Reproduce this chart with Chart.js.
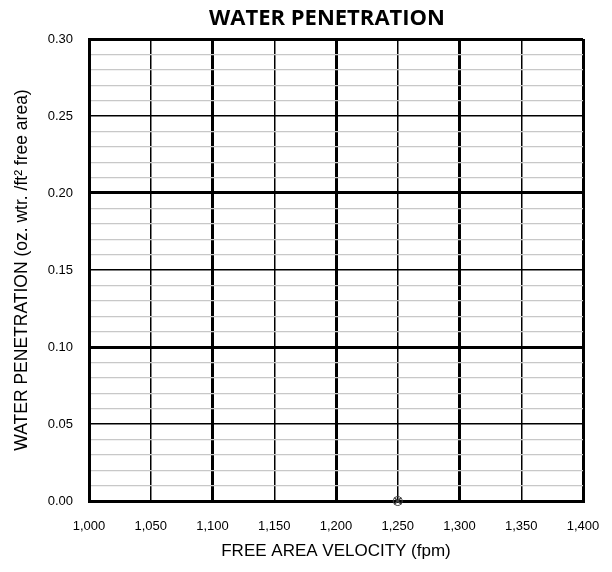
<!DOCTYPE html>
<html>
<head>
<meta charset="utf-8">
<script src="https://cdn.jsdelivr.net/npm/chart.js@4/dist/chart.umd.min.js"></script>
<style>
  html, body { margin: 0; padding: 0; background: #fff; }
  #wrap { width: 612px; height: 572px; }
</style>
</head>
<body>
<div id="wrap"><canvas id="chart" width="612" height="572"></canvas></div>
<script>
// Data
const velocities = [1250];
const penetration = [0];
const xTicks = [1000, 1050, 1100, 1150, 1200, 1250, 1300, 1350, 1400];
const yTickLabels = [0.00, 0.05, 0.10, 0.15, 0.20, 0.25, 0.30];
const chartTitle = 'WATER PENETRATION';

const points = velocities.map((v, i) => ({ x: v, y: penetration[i] }));

// grid helpers
function yLevel(v) {
  const h = Math.round(v * 100);
  if (h % 10 === 0) return 3;      // 0.00, 0.10, 0.20, 0.30
  if (h % 5 === 0) return 2;       // 0.05, 0.15, 0.25
  return 1;                        // 0.01 minor
}
function xLevel(v) {
  return (Math.round(v) % 100 === 0) ? 3 : 2;
}

// title drawn a bit right of the canvas centre, like the original
const titlePlugin = {
  id: 'topTitle',
  afterDraw(chart) {
    const ctx = chart.ctx;
    ctx.save();
    ctx.fillStyle = '#000';
    ctx.font = 'bold 22px "Open Sans"';
    ctx.textAlign = 'center';
    ctx.textBaseline = 'middle';
    ctx.fillText(chartTitle, 327, 19);
    ctx.restore();
  }
};

new Chart(document.getElementById('chart'), {
  type: 'scatter',
  data: {
    datasets: [
      {
        data: points,
        pointStyle: 'circle',
        pointRadius: 4.5,
        pointBorderWidth: 1,
        borderColor: '#444',
        backgroundColor: 'rgba(0,0,0,0)',
        clip: false
      },
      {
        data: points,
        pointStyle: 'crossRot',
        pointRadius: 5,
        pointBorderWidth: 1.5,
        borderColor: '#444',
        backgroundColor: 'rgba(0,0,0,0)',
        clip: false
      }
    ]
  },
  plugins: [titlePlugin],
  options: {
    responsive: false,
    animation: false,
    layout: { padding: { top: 39, right: 29, bottom: 0, left: 0 } },
    plugins: {
      legend: { display: false },
      tooltip: { enabled: false },
      title: { display: false }
    },
    scales: {
      x: {
        type: 'linear',
        min: 1000,
        max: 1400,
        afterFit: s => { s.height = 71; s.paddingLeft = 0; s.paddingRight = 0; },
        afterBuildTicks: s => { s.ticks = xTicks.map(v => ({ value: v })); },
        ticks: {
          color: '#000',
          padding: 18,
          maxRotation: 0,
          font: { family: 'Liberation Sans', size: 13 },
          callback: v => v.toLocaleString('en-US')
        },
        grid: {
          drawTicks: false,
          color: '#000',
          lineWidth: c => xLevel(c.tick.value) === 3 ? 3 : 1.5
        },
        border: { display: true, color: '#000', width: 3 },
        title: {
          display: true,
          text: 'FREE AREA VELOCITY (fpm)',
          color: '#000',
          font: { family: 'Liberation Sans', size: 17 },
          padding: { top: 10, bottom: 10 }
        }
      },
      y: {
        type: 'linear',
        min: 0,
        max: 0.30,
        afterFit: s => { s.width = 89; s.paddingTop = 0; s.paddingBottom = 0; },
        ticks: {
          stepSize: 0.01,
          autoSkip: false,
          color: '#000',
          padding: 16,
          font: { family: 'Liberation Sans', size: 13 },
          callback: v => {
            const h = Math.round(v * 100);
            return (h % 5 === 0 && yTickLabels.includes(h / 100)) ? (h / 100).toFixed(2) : '';
          }
        },
        grid: {
          drawTicks: false,
          color: c => yLevel(c.tick.value) === 1 ? '#c8c8c8' : '#000',
          lineWidth: c => {
            const l = yLevel(c.tick.value);
            return l === 3 ? 3 : (l === 2 ? 1.5 : 1.2);
          }
        },
        border: { display: true, color: '#000', width: 3 },
        title: {
          display: true,
          text: 'WATER PENETRATION (oz. wtr. /ft² free area)',
          color: '#000',
          font: { family: 'Liberation Sans', size: 17.5 },
          padding: { top: 12, bottom: 12 }
        }
      }
    }
  }
});
</script>
</body>
</html>
